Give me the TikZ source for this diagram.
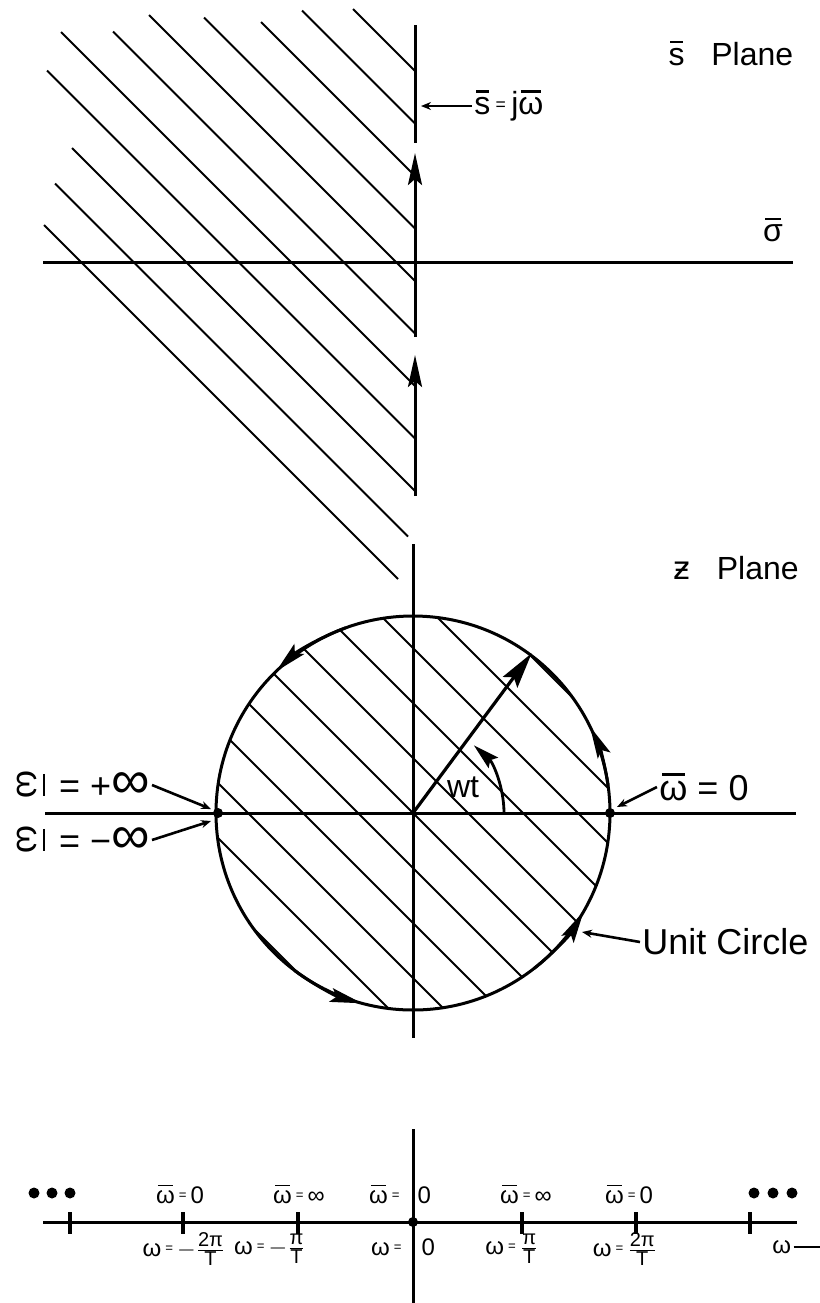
\documentclass[tikz,border=0pt]{standalone}
\usepackage{amsmath}
\usepackage{fontspec}
\setmainfont{Liberation Sans}
\newfontfamily\dejavu{DejaVu Sans}
\usetikzlibrary{arrows.meta, positioning, calc}
\newcommand{\barred}[1]{{\setbox0=\hbox{#1}\rlap{\hspace{0.1\wd0}\rule[\dimexpr\ht0+0.16em\relax]{0.8\wd0}{0.07em}}\box0}}
\newcommand{\wbar}{\barred{ω}}
\newcommand{\sbar}{\barred{s}}
\newcommand{\sigbar}{\barred{σ}}
\newcommand{\sideways}{\rotatebox[origin=c]{-90}{\wbar}}
\newcommand{\smeq}{\,\raisebox{0.15em}{\scalebox{0.55}{=}}\,}
\newcommand{\fracsize}{\fontsize{10}{10}\selectfont}
\newcommand{\fr}[2]{$\frac{\mbox{\fracsize #1}}{\mbox{\fracsize #2}}$}
\tikzset{
    axisline/.style={line width=1.5pt},
    hatchline/.style={line width=1pt},
    flowtip/.style={-{Stealth[length=16pt,width=7pt,inset=3pt]}, line width=1.5pt},
    labelarrow/.style={-{Stealth[length=5pt,width=4pt]}, line width=1.3pt},
    bigtext/.style={font=\fontsize{16}{18}\selectfont, inner sep=1pt},
    hugetext/.style={font=\fontsize{18}{20}\selectfont, inner sep=1pt},
    smalltext/.style={font=\fontsize{12}{13}\selectfont, inner sep=1pt},
    pointdot/.style={circle, fill, inner sep=0pt, minimum size=5pt},
}
\begin{document}
\begin{tikzpicture}[x=0.5pt, y=-0.5pt]
    \useasboundingbox (0,0) rectangle (820,1303);

    % s plane: hatching
    \foreach \xs/\c/\xe in {353/71/415, 302/123.5/415, 261/176/415, 204/228.5/415,
        149/281/415, 113/333.5/415, 61/386/415, 47/438.5/415, 72/491/415,
        55/543.5/408, 44/596/398}
        \draw[hatchline] (\xs,{\c+\xs-415}) -- (\xe,{\c+\xe-415});

    % s plane: axes
    \draw[axisline] (43,262) -- (793,262);
    \draw[axisline] (415,25) -- (415,143);
    \draw[flowtip] (415,337) -- (415,153);
    \draw[flowtip] (415,496) -- (415,355);

    \node[bigtext] (splane) at (731,53) {\sbar\ \ \ Plane};
    \node[bigtext] (sigma) at (773,230) {\sigbar};
    \node[bigtext, anchor=west] (sjw) at (472,106) {\sbar\smeq j\wbar};
    \coordinate (sjwtip) at (421,106);
    \draw[labelarrow] (sjw.west) -- (sjwtip);

    % z plane
    \coordinate (O) at (413,813);
    \begin{scope}
        \clip (O) circle[radius=197];
        \foreach \c in {538,593,...,1090}
            \draw[hatchline] (100,{\c-313}) -- (720,{\c+307});
    \end{scope}
    \draw[axisline] (O) circle[radius=197];
    \draw[axisline] (45,813) -- (796,813);
    \draw[axisline] (413,544) -- (413,1038);

    % direction of travel round the circle
    \draw[flowtip] ($(O)+(-8:197)$) arc[start angle=-8, end angle=-26, radius=197];
    \draw[flowtip] ($(O)+(-110:197)$) arc[start angle=-110, end angle=-134, radius=197];
    \draw[flowtip] ($(O)+(-233:197)$) arc[start angle=-233, end angle=-255, radius=197];
    \draw[flowtip] ($(O)+(-308:197)$) arc[start angle=-308, end angle=-330, radius=197];

    % radius and angle
    \coordinate (rtip) at ($(O)+(-53.4:199)$);
    \draw[-{Stealth[length=18pt,width=9pt,inset=3pt]}, line width=1.6pt] (O) -- (rtip);
    \draw[-{Stealth[length=13pt,width=7pt,inset=2pt]}, line width=1.4pt]
        ($(O)+(0:91)$) arc[start angle=0, end angle=-48, radius=91];
    \node[bigtext] (wt) at (463,787) {wt};

    \node[pointdot] (wlft) at (218,813) {};
    \node[pointdot] (wrgt) at (610,813) {};

    \node[hugetext, anchor=east] (wpinf) at (152,785)
        {\sideways\hspace{7pt}=\hspace{5pt}+\scalebox{1.5}{∞}};
    \node[hugetext, anchor=east] (wminf) at (152,840)
        {\sideways\hspace{7pt}=\hspace{5pt}−\scalebox{1.5}{∞}};
    \draw[labelarrow] (wpinf.east) -- ($(wlft)+(-7,-4)$);
    \draw[labelarrow] (wminf.east) -- ($(wlft)+(-7,8)$);

    \node[hugetext, anchor=west] (wzero) at (657,787) {\wbar\ =\ 0};
    \draw[labelarrow] (wzero.west) -- ($(wrgt)+(7,-6)$);

    \node[bigtext] (zplane) at (736,568) {{\dejavu ƶ}\ \ \ Plane};
    \node[bigtext, anchor=west, font=\fontsize{18}{20}\selectfont] (unitc) at (640,942) {Unit Circle};
    \coordinate (ucirc) at (582,932);
    \draw[labelarrow] (unitc.west) -- (ucirc);

    % frequency line
    \draw[axisline] (43,1222) -- (797,1222);
    \draw[axisline] (413,1129) -- (413,1303);
    \foreach \xt in {70,183,298,522,636,750}
        \draw[line width=2pt] (\xt,1212) -- (\xt,1234);
    \node[pointdot] (wdot) at (413,1222) {};
    \foreach \xd in {34,52,70,754,773,792}
        \fill (\xd,1193) circle[radius=5.5];

    \node[smalltext] (top1) at (180,1194) {\wbar\smeq 0};
    \node[smalltext] (top2) at (299,1194) {\wbar\smeq ∞};
    \node[smalltext] (top3) at (400,1194) {\wbar\smeq\hspace{7pt}0};
    \node[smalltext] (top4) at (526,1194) {\wbar\smeq ∞};
    \node[smalltext] (top5) at (629,1194) {\wbar\smeq 0};

    \node[smalltext] (bot1) at (184,1249) {ω\smeq$-$\fr{2π}{T}};
    \node[smalltext] (bot2) at (270,1249) {ω\smeq$-$\fr{π}{T}};
    \node[smalltext] (bot3) at (403,1247) {ω\smeq\hspace{8pt}0};
    \node[smalltext] (bot4) at (512,1249) {ω\smeq\fr{π}{T}};
    \node[smalltext] (bot5) at (625,1249) {ω\smeq\fr{2π}{T}};
    \node[smalltext, anchor=west] (bot6) at (770,1247) {ω};
    \coordinate (wend) at (820,1247);
    \draw[line width=1.3pt] (bot6.east) -- (wend);
\end{tikzpicture}
\end{document}
